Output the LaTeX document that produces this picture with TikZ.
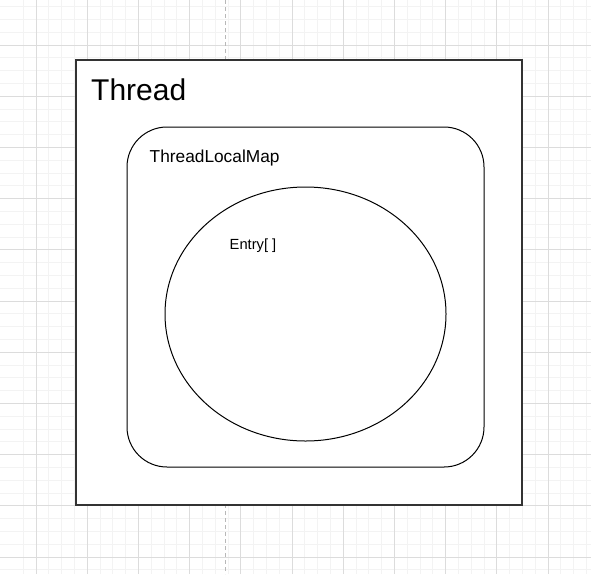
\documentclass[tikz,border=0pt]{standalone}
\usepackage{fontspec}
\setmainfont{Liberation Sans}
\usetikzlibrary{shapes.geometric}
\definecolor{minorgrid}{HTML}{F3F3F3}
\definecolor{majorgrid}{HTML}{DCDCDC}
\definecolor{guide}{HTML}{B8B8B8}
\definecolor{frameline}{HTML}{333333}
\tikzset{
  minorline/.style={draw=minorgrid, line width=0.8pt},
  majorline/.style={draw=majorgrid, line width=0.8pt},
  guideline/.style={draw=guide, line width=1pt, dash pattern=on 4pt off 3pt},
  threadbox/.style={draw=frameline, fill=white, line width=1.3pt, inner sep=0pt, outer sep=0pt},
  mapbox/.style={draw=black, fill=white, line width=1pt, rounded corners=40pt, inner sep=0pt, outer sep=0pt},
  entryshape/.style={draw=black, fill=white, ellipse, line width=1pt, inner sep=0pt, outer sep=0pt},
  lbl/.style={anchor=base west, inner sep=0pt, text=black}
}
\begin{document}
\begin{tikzpicture}[x=1pt,y=-1pt]
\useasboundingbox (0,0) rectangle (591,574);
\fill[white] (0,0) rectangle (591,574);
% grid
\foreach \i in {-1,...,46} { \draw[minorline] ({36+12.8*\i},0) -- ({36+12.8*\i},574); }
\foreach \i in {-4,...,41} { \draw[minorline] (0,{45+12.8*\i}) -- (591,{45+12.8*\i}); }
\foreach \i in {0,...,11} { \draw[majorline] ({36+51.2*\i},0) -- ({36+51.2*\i},574); }
\foreach \i in {-1,...,10} { \draw[majorline] (0,{45+51.2*\i}) -- (591,{45+51.2*\i}); }
\coordinate (gtop) at (225,0);
\coordinate (gbot) at (225,574);
\draw[guideline] (gtop) -- (gbot);
% shapes
\node[threadbox, minimum width=446pt, minimum height=445pt] (thread) at (299,282.5) {};
\node[mapbox, minimum width=357pt, minimum height=340pt] (map) at (305.5,297) {};
\node[entryshape, minimum width=281pt, minimum height=254pt] (entry) at (305.5,314) {};
% labels
\node[lbl, font=\fontsize{30}{36}\selectfont] (threadlbl) at (91,100.5) {Thread};
\node[lbl, font=\fontsize{17.3}{20}\selectfont] (maplbl) at (149.5,162) {ThreadLocalMap};
\node[lbl, font=\fontsize{14.7}{18}\selectfont] (entrylbl) at (229.5,249) {Entry[ ]};
\end{tikzpicture}
\end{document}
